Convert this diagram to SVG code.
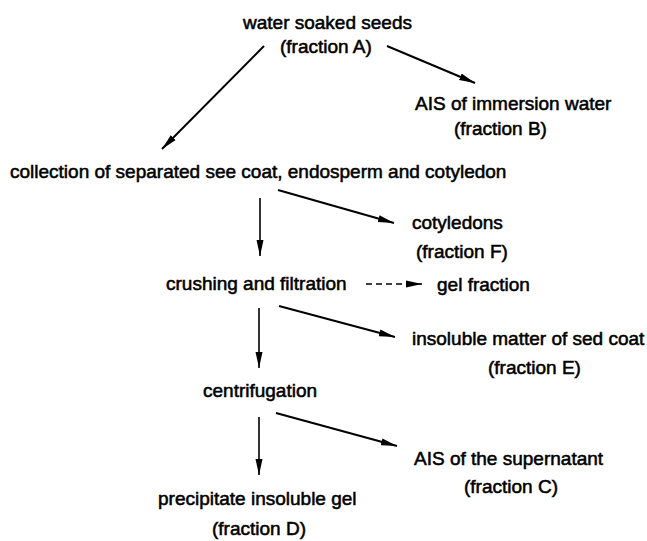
<svg xmlns="http://www.w3.org/2000/svg" width="647" height="541" viewBox="0 0 647 541">
<style>
  text { font-family: "Liberation Sans", Arial, sans-serif; font-size: 19px; fill: #000; stroke: #000; stroke-width: 0.55px; }
  .c { stroke: #000; stroke-width: 2; fill: none; }
  .v { stroke: #000; stroke-width: 1.6; fill: none; }
  .d { stroke: #000; stroke-width: 1.6; fill: none; stroke-dasharray: 6 4; }
</style>
<defs>
  <marker id="ah" markerUnits="userSpaceOnUse" markerWidth="16" markerHeight="9" viewBox="0 0 16 9" refX="16" refY="4.5" orient="auto">
    <path d="M0,1 L16,4.5 L0,8 z" fill="#000"/>
  </marker>
</defs>
<rect width="647" height="541" fill="#fff"/>
<g id="connectors">
  <line class="c" x1="264" y1="46" x2="162" y2="149" marker-end="url(#ah)"/>
  <line class="c" x1="387" y1="46" x2="475" y2="83" marker-end="url(#ah)"/>
  <line class="c" x1="278" y1="190" x2="394" y2="223" marker-end="url(#ah)"/>
  <line class="v" x1="260" y1="198" x2="260" y2="256" marker-end="url(#ah)"/>
  <line class="d" x1="366" y1="284" x2="422" y2="284" marker-end="url(#ah)"/>
  <line class="c" x1="279" y1="306" x2="395" y2="337" marker-end="url(#ah)"/>
  <line class="v" x1="259" y1="308" x2="259" y2="368" marker-end="url(#ah)"/>
  <line class="c" x1="276" y1="413" x2="397" y2="446" marker-end="url(#ah)"/>
  <line class="v" x1="259" y1="417" x2="259" y2="475" marker-end="url(#ah)"/>
</g>
<g id="nodeA">
  <text x="243" y="29">water soaked seeds</text>
  <text x="280" y="53">(fraction A)</text>
</g>
<g id="nodeB">
  <text x="415" y="110">AIS of immersion water</text>
  <text x="454" y="135">(fraction B)</text>
</g>
<g id="nodeCollection">
  <text x="10" y="178">collection of separated see coat, endosperm and cotyledon</text>
</g>
<g id="nodeF">
  <text x="412" y="229">cotyledons</text>
  <text x="416" y="258">(fraction F)</text>
</g>
<g id="nodeCrushing">
  <text x="166" y="290">crushing and filtration</text>
</g>
<g id="nodeGel">
  <text x="437" y="291">gel fraction</text>
</g>
<g id="nodeE">
  <text x="412" y="345">insoluble matter of sed coat</text>
  <text x="488" y="374">(fraction E)</text>
</g>
<g id="nodeCentrifugation">
  <text x="203" y="397">centrifugation</text>
</g>
<g id="nodeC">
  <text x="414" y="465">AIS of the supernatant</text>
  <text x="464" y="493">(fraction C)</text>
</g>
<g id="nodeD">
  <text x="158" y="505">precipitate insoluble gel</text>
  <text x="212" y="535">(fraction D)</text>
</g>
</svg>
